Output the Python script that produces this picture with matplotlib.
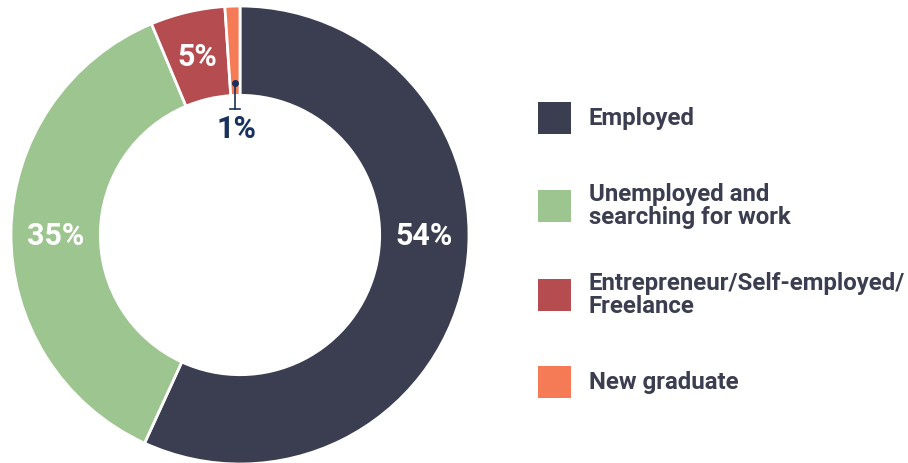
import numpy as np
import matplotlib.pyplot as plt
from matplotlib.patches import Rectangle

plt.rcParams['font.family'] = ['Roboto', 'DejaVu Sans']
plt.rcParams['font.weight'] = 'bold'

categories = ['Employed', 'Unemployed and\nsearching for work',
              'Entrepreneur/Self-employed/\nFreelance', 'New graduate']
shares = [54, 35, 5, 1]
share_labels = ['54%', '35%', '5%', '1%']
colors = ['#3b3e50', '#9dc590', '#b54c4f', '#f47b55']
text_dark = '#3b3e50'
callout_color = '#17325c'

W, H = 908, 463
fig = plt.figure(figsize=(W / 100, H / 100), dpi=100)

# donut axes: centre (240, 235) px, radius 229 px
cx, cy, r = 240, 235, 229
ax = fig.add_axes([(cx - r) / W, (H - cy - r) / H, 2 * r / W, 2 * r / H])
ring = 0.39
ax.pie(shares, colors=colors, startangle=90, counterclock=False, radius=1,
       wedgeprops=dict(width=ring, edgecolor='white', linewidth=2))
ax.set_xlim(-1, 1)
ax.set_ylim(-1, 1)
ax.axis('off')

# wedge mid angles in degrees
frac = np.array(shares) / sum(shares)
ends = 90 - np.cumsum(frac) * 360
starts = ends + frac * 360
mids = (starts + ends) / 2

# the large wedges get their labels on the horizontal
label_angles = [0, 180, mids[2]]
mid_r = 1 - ring / 2
for lab, ang in zip(share_labels[:3], label_angles):
    a = np.radians(ang)
    ax.text(mid_r * np.cos(a), mid_r * np.sin(a) - 0.005, lab, color='white',
            fontsize=22, fontweight='bold', ha='center', va='center')

# small slice gets a callout into the hole
a = np.radians(mids[3])
x0, y0 = 0.664 * np.cos(a), 0.664 * np.sin(a)
ax.plot([x0, x0], [y0, 0.552], color=callout_color, lw=1.2)
ax.plot([x0], [y0], 'o', color=callout_color, ms=4)
ax.plot([x0 - 0.02, x0 + 0.02], [0.552, 0.552], color=callout_color, lw=1.2)
ax.text(x0 + 0.005, 0.465, share_labels[3], color=callout_color, fontsize=22,
        fontweight='bold', ha='center', va='center')

# legend
leg_y = [118, 206, 295, 382]
for col, lab, y in zip(colors, categories, leg_y):
    fig.patches.append(Rectangle((538 / W, (H - y - 16) / H), 33 / W, 32 / H,
                                 facecolor=col, edgecolor='none',
                                 transform=fig.transFigure, figure=fig))
    fig.text(589 / W, (H - y) / H, lab, color=text_dark, fontsize=17.3,
             fontweight='bold', ha='left', va='center', linespacing=1.0)

fig.savefig('out.png', dpi=100, facecolor='white')
